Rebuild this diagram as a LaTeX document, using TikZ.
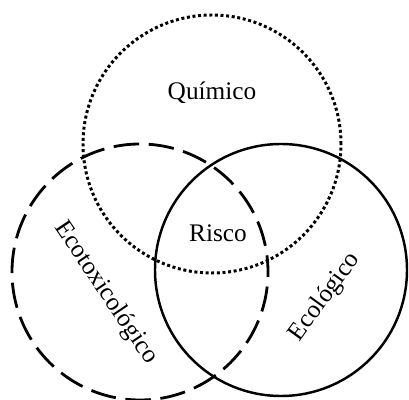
\documentclass[tikz,border=0pt]{standalone}
\usepackage{fontspec}
\setmainfont{Liberation Serif}
\newcommand{\mkcirc}[4][solid]{% #1: line style, #2: x, #3: y, #4: radius
	\draw[#1] (#2,#3) circle (#4);
}
\newcommand{\lbl}[5][0]{\node[rotate=#1] (#2) at (#3,#4) {#5};}

\begin{document}
\begin{tikzpicture}[x=0.02cm,y=0.02cm,font=\fontsize{14.4}{17}\selectfont]
					% Fix the page size
					\useasboundingbox (0,0) rectangle (409,399);
					
					% Draw the three circles
					\mkcirc[line width=1.7pt,dash pattern=on 1.7pt off 1.5pt]{212}{255}{129}
					\mkcirc[line width=1.6pt,dash pattern=on 14.5pt off 5.5pt,dash phase=5pt]{140}{127}{128}
					\mkcirc[line width=1.4pt]{281}{129}{126}
					
					% Labels
					\lbl{quimico}{212}{306}{Químico}
					\lbl{risco}{218}{166}{Risco}
					\lbl[54]{ecologico}{325}{102}{Ecológico}
					\lbl[-56]{ecotox}{106}{106}{Ecotoxicológico}
				\end{tikzpicture}
\end{document}
